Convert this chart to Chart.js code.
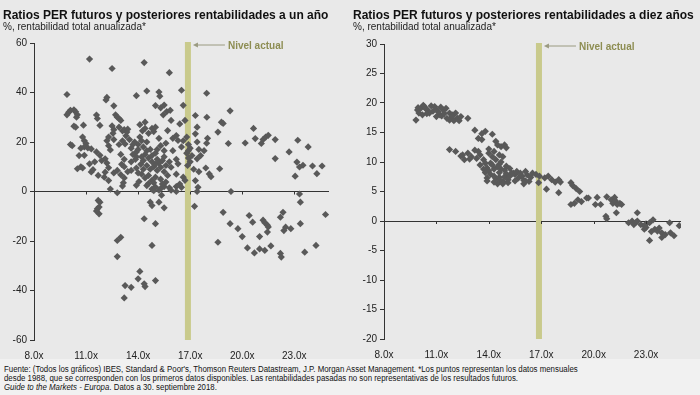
<!DOCTYPE html>
<html>
<head>
<meta charset="utf-8">
<script src="https://cdn.jsdelivr.net/npm/chart.js@4/dist/chart.umd.min.js"></script>
<style>
  body { margin: 0; width: 700px; height: 395px; background: #f1f1f1; overflow: hidden; position: relative;
         font-family: "Liberation Sans", Arial, sans-serif; }
  #top { position: absolute; left: 0; top: 0; width: 700px; height: 359px; background: #e9e9e9; }
  .panel { position: absolute; top: 0; width: 350px; height: 360px; }
  .title { position: absolute; left: 3px; top: 8px; font-weight: bold; font-size: 12px; color: #111; white-space: nowrap; }
  .sub { position: absolute; left: 3px; top: 21px; font-size: 10px; color: #222; white-space: nowrap; }
  .panel canvas { position: absolute; left: 0; top: 0; }
  #foot { position: absolute; left: 4px; top: 365px; font-size: 8.5px; line-height: 9px; color: #111; white-space: nowrap;
          transform: scaleX(0.925); transform-origin: 0 0; }
</style>
</head>
<body>
<div id="top"></div>
<div class="panel" style="left:0">
  <canvas id="c1" width="350" height="360"></canvas>
  <div class="title">Ratios PER futuros y posteriores rentabilidades a un año</div>
  <div class="sub">%, rentabilidad total anualizada*</div>
</div>
<div class="panel" style="left:350px">
  <canvas id="c2" width="350" height="360"></canvas>
  <div class="title">Ratios PER futuros y posteriores rentabilidades a diez años</div>
  <div class="sub">%, rentabilidad total anualizada*</div>
</div>
<div id="foot">
  Fuente: (Todos los gráficos) IBES, Standard &amp; Poor's, Thomson Reuters Datastream, J.P. Morgan Asset Management. *Los puntos representan los datos mensuales<br>
  desde 1988, que se corresponden con los primeros datos disponibles. Las rentabilidades pasadas no son representativas de los resultados futuros.<br>
  <i>Guide to the Markets - Europa</i>. Datos a 30. septiembre 2018.
</div>
<script>
// PER a futuro (x) vs rentabilidad posterior (y)
const xTicks = [8, 11, 14, 17, 20, 23];
const nivelActual = 16.87;
const etiquetaNivel = "Nivel actual";

const unAnio = [
  [11.2,53.5],[12.5,49.7],[14.35,52.1],[15.8,48.0],[9.9,39.2],[12.2,38.0],[12.15,37.0],[13.9,38.7],[14.5,40.6],
  [15.2,40.2],[15.25,38.5],[16.5,40.9],[17.95,39.7],[16.6,34.8],[15.0,34.7],[15.3,33.8],[15.5,34.9],[15.65,32.3],
  [15.85,32.8],[15.45,31.0],[19.3,32.6],
  [9.9,31.0],[10.0,32.0],[10.1,32.8],[10.3,33.0],[10.4,32.2],[10.5,31.0],[10.45,30.0],
  [10.1,19.0],[10.2,18.5],[10.3,26.4],[10.4,26.0],[10.85,26.8],[10.8,22.0],[10.9,20.5],[11.0,19.4],[10.7,17.5],
  [10.9,18.0],[11.1,17.6],[11.3,17.2],[10.7,10.0],[10.8,9.5],[11.2,11.2],[11.3,7.9],[11.7,6.5],[11.6,30.9],
  [11.65,29.5],[11.8,26.7],[11.6,16.0],[11.8,14.6],[11.9,12.5],[12.1,13.2],[12.2,11.5],[12.6,7.5],[12.4,1.0],
  [12.8,-0.5],[12.6,34.6],[12.7,31.0],[12.8,30.0],[12.9,29.5],[13.0,28.7],[12.5,26.5],[12.6,25.0],[12.55,23.5],
  [12.9,26.0],[13.1,24.5],[13.2,25.0],[13.4,25.2],[12.3,22.0],[12.6,21.0],[12.9,19.0],[13.1,20.5],[13.25,19.2],
  [13.3,22.5],[13.35,24.0],[12.2,20.5],[12.3,18.5],[12.4,16.8],[13.0,15.0],[13.2,13.0],[13.05,11.0],[13.2,10.0],
  [12.1,7.8],[12.05,5.8],[12.3,4.4],[12.3,9.6],[12.8,8.5],[13.0,6.8],[13.2,5.5],[13.15,3.5],[13.1,2.2],
  [10.6,14.5],[10.9,14.6],[11.5,12.0],[11.4,8.8],[10.5,9.2],
  [13.5,21.0],[13.6,17.5],[13.8,20.0],[13.9,16.0],[14.0,19.0],[13.7,15.0],[13.9,14.0],[13.6,12.0],[13.85,13.0],
  [14.1,22.0],[14.25,24.5],[14.4,25.5],[14.6,23.5],[14.8,25.5],[15.0,26.0],[14.9,24.2],[14.1,27.0],[14.4,28.0],
  [14.3,18.0],[14.5,20.0],[14.7,17.0],[14.4,15.0],[14.6,13.5],[14.8,14.5],[15.0,15.5],[15.1,13.0],[14.3,12.5],
  [14.5,10.5],[14.7,9.0],[14.9,10.0],[15.1,8.5],[15.3,9.8],[14.2,7.0],[14.4,5.5],[14.6,6.5],[14.8,4.5],[15.0,5.8],
  [15.3,5.0],[14.5,2.4],[14.8,1.0],[15.0,1.8],[15.2,0.5],[15.5,2.0],[15.8,1.5],[13.6,8.5],[13.9,9.5],[14.0,7.5],
  [14.15,11.0],[13.4,8.0],[15.5,8.0],[15.7,6.5],[15.9,9.8],[16.2,7.0],[15.5,14.0],[15.8,12.0],[16.0,16.5],
  [16.2,13.0],[16.3,11.2],[15.7,24.6],[15.9,28.7],[16.4,27.3],[16.7,28.7],[16.0,21.5],[16.2,22.6],[16.3,20.6],
  [15.3,18.5],[15.6,19.5],[15.2,21.5],[15.5,16.5],[15.2,11.5],[14.05,4.0],[13.9,2.5],[14.6,3.2],[15.6,3.8],
  [16.4,3.0],[16.5,1.7],[16.6,5.8],[16.7,4.5],[16.2,2.0],[16.5,18.0],[16.6,20.5],[16.8,22.0],[16.9,19.0],
  [17.0,17.5],[16.8,15.5],[16.9,13.5],[17.0,12.0],[16.85,10.5],[17.1,14.5],[16.9,16.5],[17.3,23.3],[17.4,20.0],
  [17.5,17.0],[17.6,14.5],[17.8,16.5],[17.95,19.5],[18.0,21.5],[17.4,13.2],[17.2,9.0],[17.5,8.0],[17.9,9.5],
  [18.1,7.1],[18.2,6.0],[17.3,4.4],[17.45,1.7],[17.4,0.0],[17.3,30.7],[17.4,26.0],[17.96,30.0],[18.6,24.0],
  [18.8,28.0],[18.9,27.5],[19.2,19.4],[18.7,9.2],[19.35,0.0],[20.17,19.6],[20.65,25.5],[20.75,21.4],[21.1,19.4],
  [21.2,21.0],[21.35,22.0],[21.5,22.7],[21.9,21.0],[21.9,13.3],[22.7,16.0],[23.2,20.7],[23.15,11.9],[23.3,9.9],
  [23.05,6.2],[23.5,10.6],[23.8,18.0],[24.05,10.3],[24.3,7.2],[24.6,10.3],[23.3,-1.0],
  [14.9,0.3],[15.3,1.2],[15.9,0.5],
  [14.2,14.0],[14.0,17.0],[14.3,9.0],[14.5,16.5],[15.4,12.5],[15.6,10.5],[15.0,11.0],[14.8,12.0],[14.2,20.5],
  [13.7,19.0],[15.1,17.0],[15.4,3.0],[14.9,3.5],
  [11.7,-3.6],[11.8,-4.3],[11.65,-7.0],[11.6,-7.9],[11.75,-9.0],[11.75,-6.3],[12.8,-19.8],[13.0,-18.5],
  [12.8,-26.3],[13.2,-43.0],[13.25,-38.0],[13.6,-38.7],[14.0,-35.3],[14.1,-32.3],[14.35,-37.3],[14.4,-38.4],
  [15.0,-36.0],[14.35,-11.0],[14.8,-21.8],[15.0,-13.0],[14.7,-4.3],[14.8,-5.7],[15.2,-4.3],[15.5,-6.6],
  [15.35,-1.5],[16.2,0.0],[17.25,-6.0],[18.9,-8.4],[18.6,-20.5],[19.3,-13.0],[19.75,-15.0],[20.0,-18.2],
  [20.4,-9.7],[20.6,-12.4],[20.3,-22.8],[20.7,-24.8],[21.0,-18.2],[21.0,-23.2],[21.3,-23.8],[21.2,-11.6],
  [21.3,-12.6],[21.45,-13.6],[21.5,-14.3],[21.45,-16.4],[21.65,-22.0],[22.2,-10.4],[22.35,-8.4],[22.2,-25.0],
  [22.25,-26.5],[22.4,-15.8],[22.5,-14.4],[22.8,-15.0],[23.35,-4.3],[23.35,-13.0],[23.6,-24.5],[24.25,-21.8],
  [24.8,-9.3]
];

const diezAnios = [
  [9.83,17.1],[9.92,18.8],[10.1,19.1],[10.3,19.4],[10.5,18.8],[10.7,19.5],[10.9,19.4],[10.6,18.3],[10.8,18.6],
  [11.0,17.7],[11.2,18.0],[11.4,18.8],[11.55,19.1],[11.75,18.3],[11.9,18.0],[12.1,18.3],[11.75,17.1],[11.9,17.7],
  [12.2,17.4],[12.4,17.7],[12.8,17.4],[10.2,18.0],[10.4,19.0],[11.1,18.5],[11.6,17.4],[12.0,17.0],
  [10.0,18.3],[10.45,18.2],[10.25,19.6],[11.3,17.8],[11.45,18.2],[12.3,17.0],[9.95,19.2],[11.0,18.9],[11.25,19.3],
  [13.2,15.4],[13.4,14.0],[13.6,14.8],[13.8,15.2],[13.6,13.8],[14.2,14.7],[14.4,13.5],[14.5,12.9],[14.7,12.6],
  [14.9,12.9],[15.0,12.4],
  [11.75,12.1],[12.1,11.8],[12.5,11.2],[12.8,11.5],[13.0,10.9],[13.3,10.6],[12.6,10.4],[13.4,11.8],[13.5,11.2],
  [13.7,10.4],[13.8,9.8],[14.0,11.5],[14.2,10.9],[14.1,9.8],[14.4,10.4],[14.6,9.6],[14.8,10.9],[14.7,10.0],
  [15.0,9.3],[13.9,9.0],[14.3,8.8],[14.5,9.2],[14.9,8.6],[15.2,8.9],
  [13.5,9.5],[13.7,8.8],[14.0,8.5],[14.2,9.5],[14.4,7.2],[14.6,7.4],[14.7,8.8],[14.9,7.5],[15.0,8.0],[15.2,7.6],
  [15.7,7.3],[15.9,7.6],[16.2,7.8],[16.4,7.4],[14.0,12.2],[14.3,11.8],[14.6,11.2],[13.2,12.0],[12.4,11.0],
  [12.9,10.5],[13.9,7.3],[14.5,6.3],[14.65,6.9],
  [13.8,8.2],[14.1,7.9],[14.3,7.6],[14.6,8.2],[14.8,6.7],[15.1,7.0],[15.3,8.1],[15.5,7.9],[15.4,8.1],[15.6,8.4],
  [15.8,8.1],[16.1,8.4],[16.0,6.9],[16.3,6.7],[16.5,8.1],[16.7,7.9],[16.9,7.6],[17.2,7.3],[17.4,7.6],[16.85,6.5],
  [13.9,6.8],[14.3,6.6],[14.8,6.3],[15.1,6.5],[15.5,6.8],[16.0,6.3],[16.1,6.8],
  [17.3,5.4],[18.0,4.8],[18.0,7.0],[18.1,6.6],[17.6,7.0],[17.8,6.6],[18.7,6.5],[18.8,6.0],[19.0,5.5],[19.2,5.0],
  [18.7,2.8],[18.9,3.0],[19.1,3.6],[19.3,3.3],[19.6,3.9],[19.7,3.9],[20.1,2.8],[20.4,2.8],[20.2,4.0],[20.75,4.1],
  [20.7,0.8],[20.75,0.4],[21.0,3.6],[21.1,3.0],[21.2,4.0],[21.25,3.4],[21.35,2.8],[21.5,3.0],[21.6,2.8],
  [21.3,1.4],[22.5,1.4],[22.0,-0.3],[22.2,0.0],[22.3,-0.6],[22.4,-0.3],[22.5,0.0],[22.7,-0.6],[22.9,-0.8],
  [23.0,-0.5],[23.2,-0.3],[23.4,0.2],[23.5,-1.4],[23.65,-1.7],[23.75,-1.2],[23.9,-2.0],[24.1,-2.3],[23.2,-3.3],
  [23.9,-2.8],[24.35,-0.3],[24.4,-2.0],[24.6,-2.5],[24.9,-0.8],[22.9,-1.4],[23.0,-1.1],[23.3,-1.8]
];

// barra "Nivel actual" detras de los puntos, flecha y texto encima
const nivelPlugin = {
  id: "nivel",
  beforeDatasetsDraw(chart) {
    const { ctx, chartArea, scales } = chart;
    const x = scales.x.getPixelForValue(nivelActual);
    ctx.save();
    ctx.fillStyle = "#c9ca8c";
    ctx.fillRect(x - 3, chartArea.top - 1, 6, chartArea.bottom - chartArea.top + 1);
    ctx.restore();
  },
  afterDatasetsDraw(chart) {
    const { ctx, chartArea, scales } = chart;
    const x = scales.x.getPixelForValue(nivelActual) + 5;
    const y = chartArea.top + 2;
    ctx.save();
    ctx.strokeStyle = "#9a9a80";
    ctx.fillStyle = "#9a9a80";
    ctx.lineWidth = 1;
    ctx.beginPath();
    ctx.moveTo(x + 3, y);
    ctx.lineTo(x + 32, y);
    ctx.stroke();
    ctx.beginPath();
    ctx.moveTo(x, y);
    ctx.lineTo(x + 5, y - 2.5);
    ctx.lineTo(x + 5, y + 2.5);
    ctx.fill();
    ctx.fillStyle = "#8d8d52";
    ctx.font = "bold 10px 'Liberation Sans', Arial, sans-serif";
    ctx.textBaseline = "middle";
    ctx.fillText(etiquetaNivel, x + 35, y + 1);
    // marcas de los ticks del eje x sobre la linea del cero
    const y0 = scales.y.getPixelForValue(0);
    ctx.strokeStyle = "#333";
    xTicks.slice(1).forEach((t) => {
      const px = Math.round(scales.x.getPixelForValue(t)) + 0.5;
      ctx.beginPath();
      ctx.moveTo(px, y0);
      ctx.lineTo(px, y0 + 3);
      ctx.stroke();
    });
    ctx.restore();
  },
};

function hacerGrafico(id, puntos, yMin, yMax, yStep, padTop, padRight, alto) {
  const canvas = document.getElementById(id);
  canvas.height = alto;
  return new Chart(canvas, {
    type: "scatter",
    data: {
      datasets: [
        {
          data: puntos.map(([x, y]) => ({ x: x, y: y })),
          pointStyle: "rectRot",
          pointRadius: 3.6,
          backgroundColor: "#595959",
          borderWidth: 0,
        },
      ],
    },
    options: {
      responsive: false,
      animation: false,
      devicePixelRatio: 1,
      layout: { padding: { top: padTop, right: padRight, bottom: 0, left: 0 } },
      plugins: { legend: { display: false }, tooltip: { enabled: false } },
      scales: {
        x: {
          type: "linear",
          min: 8,
          max: 25,
          afterBuildTicks: (s) => { s.ticks = xTicks.map((v) => ({ value: v })); },
          afterFit: (s) => { s.height = 20; },
          grid: { display: false },
          border: { display: false },
          ticks: {
            padding: 2,
            color: "#222",
            font: { size: 10, family: "'Liberation Sans', Arial, sans-serif" },
            callback: (v) => v.toFixed(1) + "x",
            maxRotation: 0,
          },
        },
        y: {
          type: "linear",
          min: yMin,
          max: yMax,
          afterFit: (s) => { s.width = 34; },
          grid: {
            color: (c) => (c.tick && c.tick.value === 0 ? "#333" : "rgba(0,0,0,0)"),
            tickColor: "#333",
            tickLength: 4,
          },
          border: { display: true, color: "#333" },
          ticks: {
            stepSize: yStep,
            padding: 3,
            color: "#222",
            font: { size: 10, family: "'Liberation Sans', Arial, sans-serif" },
          },
        },
      },
    },
    plugins: [nivelPlugin],
  });
}

hacerGrafico("c1", unAnio, -60, 60, 20, 43, 21, 360);
hacerGrafico("c2", diezAnios, -20, 30, 5, 44, 19, 359);
</script>
</body>
</html>
